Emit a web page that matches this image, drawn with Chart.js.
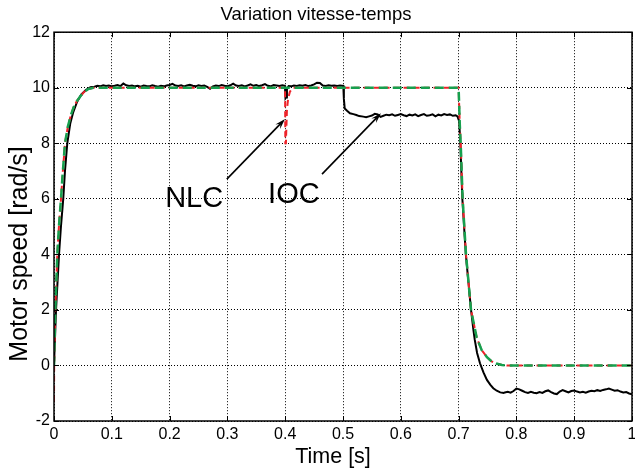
<!DOCTYPE html>
<html><head><meta charset="utf-8">
<script src="https://cdn.jsdelivr.net/npm/chart.js@4.4.1/dist/chart.umd.min.js"></script>
<style>html,body{margin:0;padding:0;background:#fff;}canvas{display:block;}</style>
</head><body>
<canvas id="c" width="635" height="470" style="width:635px;height:470px"></canvas>
<script>
// ---------- data ----------
const xTickValues = [0,0.1,0.2,0.3,0.4,0.5,0.6,0.7,0.8,0.9,1];
const xTickLabels = ['0','0.1','0.2','0.3','0.4','0.5','0.6','0.7','0.8','0.9','1'];
const yTickValues = [-2,0,2,4,6,8,10,12];
const yTickLabels = ['-2','0','2','4','6','8','10','12'];

// reference (green dashed)
const refTime  = [0,0.0023,0.0057,0.0085,0.0121,0.015,0.019,0.024,0.029,0.034,0.039,0.046,0.052,0.059,0.068,
                  0.7,0.7008,0.702,0.7036,0.707,0.7128,0.7215,0.7313,0.740,0.749,0.757,0.765,0.775,0.783,1.0];
const refSpeed = [0,2.0,4.0,5.0,6.0,6.9,8.0,8.6,9.0,9.3,9.5,9.7,9.85,9.95,10.0,
                  10.0,9.5,8.7,8.0,6.0,4.0,2.0,1.0,0.55,0.3,0.15,0.07,0.02,0,0];

// NLC (red dashed)
const nlcTime  = [0,0.0003,0.0023,0.0057,0.0085,0.0121,0.015,0.019,0.024,0.029,0.034,0.039,0.046,0.052,0.059,0.068,
                  0.3998,0.4002,0.4012,0.403,0.405,0.408,0.411,0.414,
                  0.7,0.7008,0.702,0.7036,0.707,0.7128,0.7215,0.7313,0.740,0.749,0.757,0.765,0.775,0.783,1.0];
const nlcSpeed = [-1.3,0,2.0,4.0,5.0,6.0,6.9,8.0,8.6,9.0,9.3,9.5,9.7,9.85,9.95,10.0,
                  10.0,8.0,8.0,9.2,9.6,9.85,9.95,10.0,
                  10.0,9.5,8.7,8.0,6.0,4.0,2.0,1.0,0.55,0.3,0.15,0.07,0.02,0,0];

// IOC (black solid)
const iocTime = [0,0.0035,0.0087,0.012,0.016,0.019,0.023,0.028,0.033,0.04,0.047,0.055,0.063,
  0.070,0.075,0.080,0.085,0.090,0.095,0.100,0.105,0.110,0.115,0.120,0.125,0.130,0.135,0.140,0.145,0.150,0.155,0.160,0.165,
  0.170,0.175,0.180,0.185,0.190,0.195,0.200,0.205,0.210,0.215,0.220,0.225,0.230,0.235,0.240,0.245,0.250,0.255,0.260,0.265,
  0.270,0.275,0.280,0.285,0.290,0.295,0.300,0.305,0.310,0.315,0.320,0.325,0.330,0.335,0.340,0.345,0.350,0.355,0.360,0.365,
  0.370,0.375,0.380,0.385,0.390,0.395,0.3995,0.4005,0.4015,0.403,0.406,
  0.410,0.415,0.420,0.425,0.430,0.435,0.440,0.445,0.450,0.455,0.460,0.465,0.470,0.475,0.480,0.485,0.490,0.495,
  0.5005,0.5015,0.503,0.507,0.512,0.518,0.523,0.528,0.535,0.540,0.545,0.550,0.555,0.560,0.565,0.570,0.575,0.580,0.585,
  0.590,0.595,0.600,0.605,0.610,0.615,0.620,0.625,0.630,0.635,0.640,0.645,0.650,0.655,0.660,0.665,0.670,0.675,0.680,
  0.685,0.690,0.695,0.698,
  0.701,0.703,0.7065,0.7125,0.7215,0.7255,0.728,0.732,0.737,0.743,0.749,0.755,0.760,0.766,0.772,0.778,
  0.780,0.785,0.790,0.795,0.800,0.805,0.810,0.815,0.820,0.825,0.830,0.835,0.840,0.845,0.850,0.855,0.860,0.865,0.870,
  0.875,0.880,0.885,0.890,0.895,0.900,0.905,0.910,0.915,0.920,0.925,0.930,0.935,0.940,0.945,0.950,0.955,0.960,0.965,
  0.970,0.975,0.980,0.985,0.990,0.995,1.000];
const iocSpeed = [0,2.0,4.0,5.0,6.0,7.0,8.0,8.7,9.1,9.5,9.75,9.92,10.02,
  10.04,10.07,10.05,10.09,10.06,10.08,10.05,10.07,10.10,10.06,10.15,10.09,10.06,10.08,10.05,10.07,10.04,10.08,10.06,10.05,
  10.09,10.06,10.04,10.07,10.05,10.08,10.10,10.14,10.08,10.06,10.09,10.05,10.08,10.11,10.07,10.05,10.09,10.06,10.08,10.03,
  9.96,10.05,10.08,10.06,10.10,10.07,10.05,10.09,10.15,10.08,10.06,10.09,10.05,10.08,10.12,10.07,10.10,10.06,10.09,10.13,
  10.07,10.05,10.10,10.08,10.06,10.09,10.07,9.62,9.65,9.95,10.06,
  10.05,10.08,10.06,10.09,10.07,10.10,10.06,10.08,10.12,10.18,10.17,10.08,10.06,10.09,10.07,10.08,10.06,10.08,
  10.07,9.6,9.25,9.17,9.08,9.05,9.02,8.98,8.96,8.94,8.97,9.00,9.06,9.04,8.95,8.99,9.03,9.01,9.04,
  8.99,9.02,9.05,9.01,8.98,9.03,9.00,9.04,8.98,9.02,9.05,8.99,9.01,9.04,8.97,9.03,9.00,9.05,9.02,
  9.04,8.99,9.01,8.97,
  8.8,8.0,6.0,4.0,2.0,1.3,0.92,0.45,0.08,-0.25,-0.52,-0.70,-0.82,-0.91,-0.97,-0.99,
  -0.97,-0.95,-0.98,-0.92,-0.83,-0.86,-0.91,-0.96,-0.99,-0.95,-0.98,-1.00,-0.96,-0.99,-0.93,-0.90,-0.96,-1.01,-1.03,
  -0.94,-0.89,-0.93,-0.97,-0.92,-0.90,-0.94,-0.97,-0.95,-0.98,-0.94,-0.91,-0.93,-0.89,-0.92,-0.88,-0.86,-0.83,-0.87,
  -0.91,-0.89,-0.94,-0.97,-0.96,-1.01,-1.04];

// annotations (data coordinates)
const noteText  = ['NLC','IOC'];
const noteTime  = [0.2425,0.415];
const noteSpeed = [5.72,5.86];
const arrowFromTime  = [0.299,0.4637];
const arrowFromSpeed = [6.71,6.89];
const arrowToTime    = [0.3997,0.5657];
const arrowToSpeed   = [8.87,9.08];

// ---------- chart ----------
const FONT = "'Liberation Sans', Arial, Helvetica, sans-serif";
const pts = (t, v) => t.map((x, i) => ({x: x, y: v[i]}));

const framePlugin = {
  id: 'frame',
  afterDatasetsDraw(chart) {
    const {ctx, chartArea: a, scales} = chart;
    ctx.save();
    ctx.strokeStyle = '#000';
    ctx.lineWidth = 1;
    // inward ticks
    ctx.beginPath();
    xTickValues.forEach(v => {
      const px = Math.round(scales.x.getPixelForValue(v)) + 0.5;
      ctx.moveTo(px, a.bottom); ctx.lineTo(px, a.bottom - 5);
      ctx.moveTo(px, a.top); ctx.lineTo(px, a.top + 5);
    });
    yTickValues.forEach(v => {
      const py = Math.round(scales.y.getPixelForValue(v)) + 0.5;
      ctx.moveTo(a.left, py); ctx.lineTo(a.left + 5, py);
      ctx.moveTo(a.right, py); ctx.lineTo(a.right - 5, py);
    });
    ctx.stroke();
    ctx.lineWidth = 1.5;
    ctx.strokeRect(a.left, a.top, a.right - a.left, a.bottom - a.top);
    // annotations
    ctx.fillStyle = '#000';
    ctx.font = '29px ' + FONT;
    ctx.textAlign = 'center';
    ctx.textBaseline = 'alphabetic';
    noteText.forEach((t, i) => {
      ctx.fillText(t, scales.x.getPixelForValue(noteTime[i]), scales.y.getPixelForValue(noteSpeed[i]));
    });
    ctx.lineWidth = 1.6;
    noteText.forEach((t, i) => {
      const x0 = scales.x.getPixelForValue(arrowFromTime[i]), y0 = scales.y.getPixelForValue(arrowFromSpeed[i]);
      const x1 = scales.x.getPixelForValue(arrowToTime[i]),   y1 = scales.y.getPixelForValue(arrowToSpeed[i]);
      const ang = Math.atan2(y1 - y0, x1 - x0);
      ctx.beginPath(); ctx.moveTo(x0, y0); ctx.lineTo(x1 - 6*Math.cos(ang), y1 - 6*Math.sin(ang)); ctx.stroke();
      const L = 11, w = 0.3;
      ctx.beginPath();
      ctx.moveTo(x1, y1);
      ctx.lineTo(x1 - L*Math.cos(ang - w), y1 - L*Math.sin(ang - w));
      ctx.lineTo(x1 - 0.6*L*Math.cos(ang), y1 - 0.6*L*Math.sin(ang));
      ctx.lineTo(x1 - L*Math.cos(ang + w), y1 - L*Math.sin(ang + w));
      ctx.closePath(); ctx.fill();
    });
    // axis titles
    ctx.textAlign = 'center';
    ctx.textBaseline = 'middle';
    ctx.font = '21.5px ' + FONT;
    ctx.fillText('Time [s]', 333, 457);
    ctx.translate(20, 254);
    ctx.rotate(-Math.PI / 2);
    ctx.font = '25px ' + FONT;
    ctx.fillText('Motor speed [rad/s]', 0, 0);
    ctx.restore();
  }
};

new Chart(document.getElementById('c'), {
  type: 'line',
  data: {
    datasets: [
      {label: 'Reference', data: pts(refTime, refSpeed), borderColor: '#16a04e', borderWidth: 2.5,
       borderDash: [9, 5], pointRadius: 0, tension: 0, order: 0},
      {label: 'NLC', data: pts(nlcTime, nlcSpeed), borderColor: '#ee2229', borderWidth: 2,
       borderDash: [6, 4], pointRadius: 0, tension: 0, order: 1},
      {label: 'IOC', data: pts(iocTime, iocSpeed), borderColor: '#000000', borderWidth: 2,
       pointRadius: 0, tension: 0, order: 2}
    ]
  },
  options: {
    responsive: false, animation: false, devicePixelRatio: 1,
    layout: {padding: {left: 0, right: 3, top: 0, bottom: 0}},
    plugins: {
      legend: {display: false}, tooltip: {enabled: false},
      title: {display: true, text: 'Variation vitesse-temps', color: '#000',
              font: {family: FONT, size: 18.5, weight: 'normal'}, padding: {top: 4, bottom: 6}}
    },
    scales: {
      x: {
        type: 'linear', min: 0, max: 1,
        afterFit(s) { s.height = 49; s.paddingRight = 0; s.paddingLeft = 0; },
        afterBuildTicks(s) { s.ticks = xTickValues.map(v => ({value: v})); },
        ticks: {color: '#000', font: {family: FONT, size: 16}, padding: 4, maxRotation: 0,
                callback: (v, i) => xTickLabels[i]},
        grid: {color: '#000', lineWidth: 1, drawTicks: false, tickLength: 0},
        border: {display: false, dash: [1, 2]},
        title: {display: false}
      },
      y: {
        type: 'linear', min: -2, max: 12,
        afterFit(s) { s.width = 54; s.paddingTop = 0; s.paddingBottom = 0; },
        afterBuildTicks(s) { s.ticks = yTickValues.map(v => ({value: v})); },
        ticks: {color: '#000', font: {family: FONT, size: 16}, padding: 4,
                callback: (v, i) => yTickLabels[i]},
        grid: {color: '#000', lineWidth: 1, drawTicks: false, tickLength: 0},
        border: {display: false, dash: [1, 2]},
        title: {display: false}
      }
    }
  },
  plugins: [framePlugin]
});
</script>
</body></html>
